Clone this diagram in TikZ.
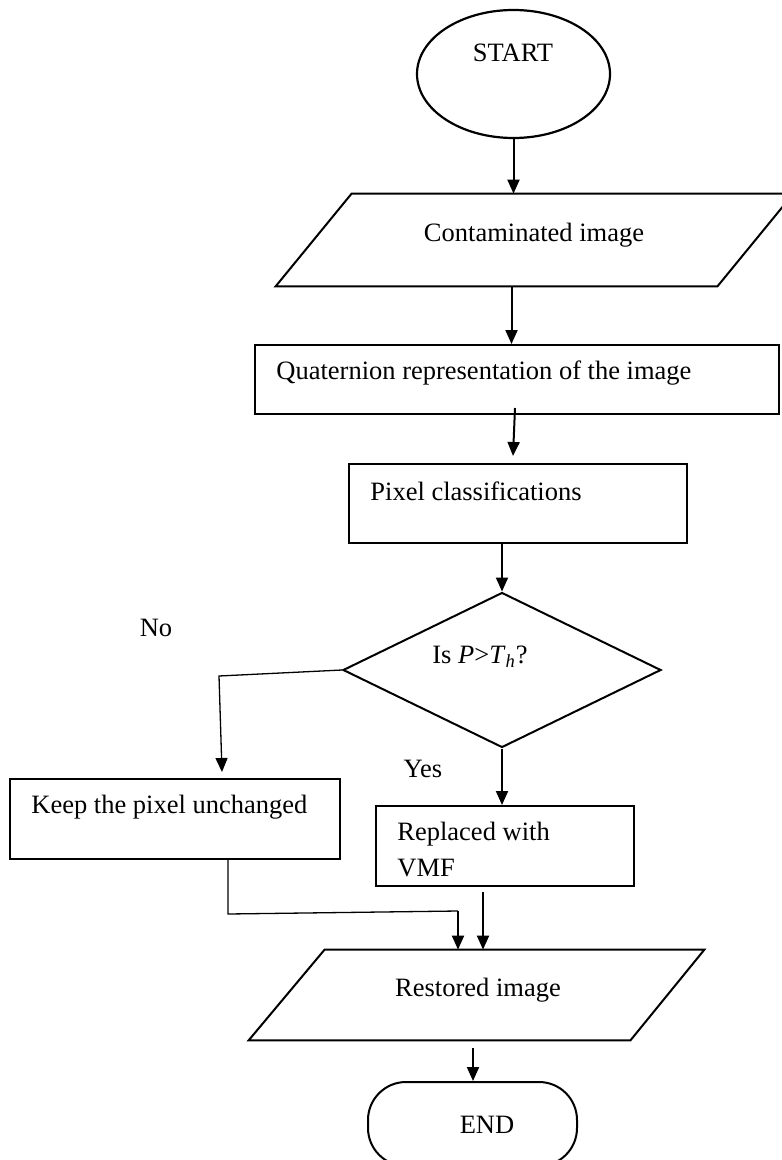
\documentclass[tikz,border=0pt]{standalone}
\usepackage{fontspec}
\setmainfont{Liberation Serif}
\usetikzlibrary{shapes.geometric,arrows.meta,calc}
\begin{document}
\begin{tikzpicture}[x=0.5pt,y=-0.5pt,
  every node/.style={font=\fontsize{13.25pt}{17pt}\selectfont, inner sep=0pt},
  arr/.style={-{Triangle[length=7pt,width=6pt]}, line width=1pt},
  thinline/.style={line width=0.65pt},
  thinarr/.style={-{Triangle[length=7pt,width=6pt]}, line width=0.65pt},
  box/.style={draw, line width=1pt, rectangle},
  outline/.style={line width=1pt, line join=miter}
]
\useasboundingbox (0,0) rectangle (781,1160);

% shapes
\node[ellipse, draw, line width=1.1pt, minimum width=96.5pt, minimum height=64pt] (start) at (513.5,74) {};
\node (starttxt) at (513,53) {START};

\node[minimum width=258.5pt, minimum height=46pt] (cont) at (534.5,240) {};
\draw[outline] (cont.south west) -- ($(cont.south east)+(-76,0)$) -- (cont.north east) -- ($(cont.north west)+(76,0)$) -- cycle;
\node (conttxt) at (534,235) {Contaminated image};

\node[box, minimum width=262.25pt, minimum height=34.5pt] (quat) at (516.75,379.5) {};
\node[anchor=west] (quattxt) at (276,373) {Quaternion representation of the image};

\node[box, minimum width=169pt, minimum height=39.5pt] (pix) at (518,503.5) {};
\node[anchor=west] (pixtxt) at (370,491) {Pixel classifications};

\node[diamond, draw, line width=1pt, minimum width=159pt, minimum height=77.5pt] (dia) at (502,670) {};
\node (diatxt) at (480,657) {Is \textit{P}>\textit{T}\textsubscript{\textit{h}}?};

\node (no) at (156,628) {No};
\node (yes) at (423,769) {Yes};

\node[box, minimum width=165pt, minimum height=40pt] (keep) at (175,819) {};
\node[anchor=west] (keeptxt) at (31,807) {Keep the pixel unchanged};

\node[box, minimum width=129pt, minimum height=40pt] (repl) at (505,846) {};
\node[anchor=west] (repl1) at (397,834) {Replaced with};
\node[anchor=west] (repl2) at (397,868) {VMF};

\node[minimum width=227.5pt, minimum height=45pt] (rest) at (476.5,995) {};
\draw[outline] (rest.south west) -- ($(rest.south east)+(-74,0)$) -- (rest.north east) -- ($(rest.north west)+(76,0)$) -- cycle;
\node (resttxt) at (478,990) {Restored image};

\node[draw, line width=1pt, rounded corners=19pt, minimum width=104.5pt, minimum height=42pt] (end) at (472.5,1124) {};
\node (endtxt) at (487,1125) {END};

% connectors
\draw[arr] (start.south) -- (start.south |- cont.north);
\coordinate (c1) at ($(cont.south)+(-23,0)$);
\draw[arr] (c1) -- (c1 |- quat.north);
\draw[arr] ($(quat.south)+(-1.75,-7)$) -- ($(pix.north)+(-5,-7)$);
\draw[arr] (dia.north |- pix.south) -- (dia.north);

\coordinate (nob) at (219,676);
\draw[thinarr] (dia.west) -- (nob) -- ($(keep.north)+(47,-6)$);

\draw[arr] (dia.south) -- (dia.south |- repl.north);

\coordinate (k1) at ($(keep.south)+(53,0)$);
\coordinate (k2) at (228,914);
\coordinate (k3) at (458,911);
\draw[thinline] (k1) -- (k2) -- (k3);
\draw[arr] (k3) -- (k3 |- rest.north);

\coordinate (r1) at ($(repl.south)+(-22,5)$);
\draw[arr] (r1) -- (r1 |- rest.north);

\coordinate (e1) at ($(rest.south)+(-3.5,8)$);
\draw[arr] (e1) -- (e1 |- end.north);
\end{tikzpicture}
\end{document}
